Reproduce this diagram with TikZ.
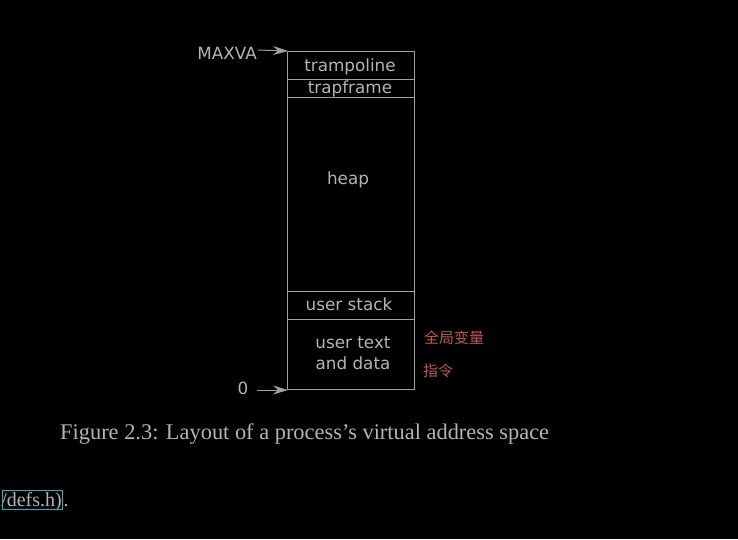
\documentclass[tikz,border=0pt]{standalone}
\usepackage{fontspec}
\setmainfont{Liberation Serif}
\newfontfamily\dejavu{DejaVu Sans}
\newfontfamily\cjk{Noto Sans CJK SC}
\usetikzlibrary{arrows.meta}
\definecolor{txt}{HTML}{B4B4B4}
\definecolor{ln}{HTML}{A0A0A0}
\definecolor{redlab}{HTML}{C05858}
\definecolor{linkbox}{HTML}{20B8C0}
\tikzset{
  seg/.style={draw=ln, line width=1pt},
  lab/.style={text=txt, font=\dejavu\fontsize{16.8}{20}\selectfont, inner sep=0pt},
  cn/.style={text=redlab, font=\cjk\fontsize{15}{18}\selectfont, inner sep=0pt},
  ptr/.style={draw=ln, line width=1pt, -{Stealth[length=15pt,width=9pt,inset=5pt]}},
  serifsmall/.style={text=txt, font=\fontsize{20}{24}\selectfont, inner sep=0pt},
}
\begin{document}
\begin{tikzpicture}[x=1pt,y=-1pt]
\useasboundingbox[fill=black] (0,0) rectangle (738,539);
% boxes
\draw[seg] (287,51) rectangle (414,389);
\draw[seg] (287,79) -- (414,79);
\draw[seg] (287,97) -- (414,97);
\draw[seg] (287,291) -- (414,291);
\draw[seg] (287,319) -- (414,319);
\node[lab] (tr) at (350,66.5) {trampoline};
\node[lab] (tf) at (350,88.5) {trapframe};
\node[lab] (hp) at (348,179.5) {heap};
\node[lab] (us) at (349,304) {user stack};
\node[lab, align=center, font=\dejavu\fontsize{16.8}{21}\selectfont] (ut) at (353,353) {user text\\and data};
% pointers
\node[lab, anchor=east] (mx) at (257,53) {MAXVA};
\coordinate (mxstart) at (258,50);
\coordinate (mxend) at (288,51);
\draw[ptr] (mxstart) -- (mxend);
\node[lab] (zero) at (243,388.5) {0};
\coordinate (zstart) at (257,390);
\coordinate (zend) at (288,390);
\draw[ptr] (zstart) -- (zend);
% chinese labels
\node[cn, anchor=west] (qj) at (424,338) {全局变量};
\node[cn, anchor=west] (zl) at (423,371) {指令};
% caption
\node[text=txt, font=\fontsize{22.4}{26}\selectfont, inner sep=0pt, anchor=west] (cap) at (60,434) {Figure 2.3: Layout of a process’s virtual address space};
% bottom fragment
\node[serifsmall, anchor=base east] (lk) at (62,506) {/defs.h)};
\node[draw=linkbox, line width=0.8pt, inner sep=0pt, minimum height=18pt, anchor=east, font=\fontsize{20}{24}\selectfont] (lkbox) at (63,500) {\phantom{/defs.h)}\hspace{2pt}};
\node[serifsmall, anchor=base west] (dot) at (63.5,506) {.};
\end{tikzpicture}
\end{document}
